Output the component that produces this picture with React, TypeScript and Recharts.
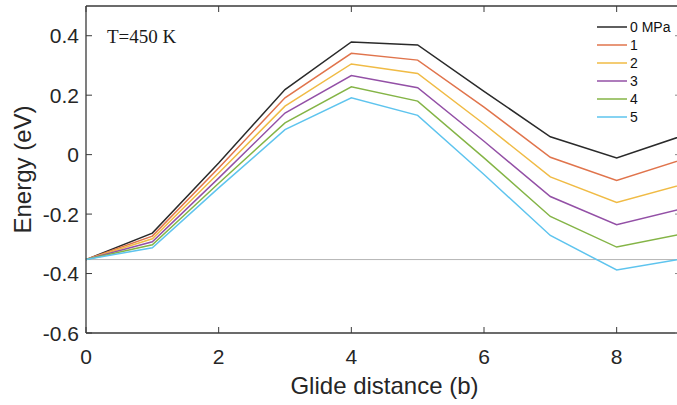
import React from 'react';
import { LineChart, Line, XAxis, YAxis, ReferenceLine } from 'recharts';

const distance = [0, 1, 2, 3, 4, 5, 6, 7, 8, 9];
const e0 = [-0.353, -0.264, -0.028, 0.219, 0.379, 0.369, 0.213, 0.06, -0.011, 0.064];
const e1 = [-0.353, -0.274, -0.045, 0.191, 0.341, 0.318, 0.16, -0.009, -0.087, -0.016];
const e2 = [-0.353, -0.283, -0.062, 0.163, 0.305, 0.273, 0.103, -0.075, -0.161, -0.1];
const e3 = [-0.353, -0.293, -0.079, 0.14, 0.266, 0.225, 0.045, -0.141, -0.236, -0.181];
const e4 = [-0.353, -0.303, -0.096, 0.107, 0.228, 0.18, -0.011, -0.208, -0.311, -0.266];
const e5 = [-0.353, -0.313, -0.112, 0.084, 0.191, 0.132, -0.067, -0.272, -0.388, -0.35];

const seriesNames = ['0 MPa', '1', '2', '3', '4', '5'];
const seriesKeys = ['e0', 'e1', 'e2', 'e3', 'e4', 'e5'];
const seriesColors = ['#2a2a2a', '#e0744c', '#f0bb45', '#9350a6', '#84b446', '#5ec4ee'];
const seriesValues = [e0, e1, e2, e3, e4, e5];

const xDomain = [0, 9];
const yDomain = [-0.6, 0.5];
const xTicks = [0, 2, 4, 6, 8];
const yTicks = [-0.6, -0.4, -0.2, 0, 0.2, 0.4];
const baseline = -0.353;
const tempLabel = 'T=450 K';
const xLabel = 'Glide distance (b)';
const yLabel = 'Energy (eV)';

const data = distance.map((d, i) => {
  const row: any = { x: d };
  seriesKeys.forEach((k, j) => {
    row[k] = seriesValues[j][i];
  });
  return row;
});

const AXIS = '#3a3a3a';
const FONT = '"Liberation Sans", Arial, sans-serif';
const TICK = 6;

const CHART_W = 700;
const CHART_H = 405;
const MARGIN = { top: 6, right: 17, bottom: 71, left: 85 };
const PLOT_L = MARGIN.left + 1;
const PLOT_R = CHART_W - MARGIN.right;
const PLOT_T = MARGIN.top;
const PLOT_B = CHART_H - MARGIN.bottom - 1;
const sx = (v: number) => PLOT_L + ((v - xDomain[0]) / (xDomain[1] - xDomain[0])) * (PLOT_R - PLOT_L);
const sy = (v: number) => PLOT_B - ((v - yDomain[0]) / (yDomain[1] - yDomain[0])) * (PLOT_B - PLOT_T);

const BottomTick = (p: any) => (
  <g>
    <line x1={p.x} x2={p.x} y1={p.y} y2={p.y - TICK} stroke={AXIS} strokeWidth={1} />
    <text x={p.x} y={p.y + 31} textAnchor="middle" fontSize={21} fontFamily={FONT} fill="#262626">
      {String(p.payload.value)}
    </text>
  </g>
);
const LeftTick = (p: any) => (
  <g>
    <line x1={p.x} x2={p.x + TICK} y1={p.y} y2={p.y} stroke={AXIS} strokeWidth={1} />
    <text x={p.x - 7} y={p.y + 7.5} textAnchor="end" fontSize={21} fontFamily={FONT} fill="#262626">
      {String(p.payload.value)}
    </text>
  </g>
);

export default function App() {
  return (
    <div style={{ position: 'absolute', left: 0, top: 0, width: 677, height: 405, overflow: 'hidden', background: '#fff' }}>
      <LineChart width={CHART_W} height={CHART_H} data={data} margin={MARGIN}>
        <XAxis
          dataKey="x"
          type="number"
          domain={xDomain}
          ticks={xTicks}
          height={1}
          tickSize={0}
          tickMargin={0}
          tickLine={false}
          tick={BottomTick}
          axisLine={{ stroke: AXIS, strokeWidth: 1.3 }}
          interval={0}
          label={{
            content: (props: any) => {
              const vb = props.viewBox;
              return (
                <text x={vb.x + vb.width / 2} y={vb.y + 61} textAnchor="middle" fontSize={24} fontFamily={FONT} fill="#262626">
                  {xLabel}
                </text>
              );
            },
          }}
        />
        <YAxis
          type="number"
          domain={yDomain}
          ticks={yTicks}
          width={1}
          tickSize={0}
          tickMargin={0}
          tickLine={false}
          tick={LeftTick}
          axisLine={{ stroke: AXIS, strokeWidth: 1.3 }}
          interval={0}
          label={{
            content: (props: any) => {
              const vb = props.viewBox;
              const cx = 31;
              const cy = vb.y + vb.height / 2;
              return (
                <text x={cx} y={cy} transform={`rotate(-90 ${cx} ${cy})`} textAnchor="middle" fontSize={24} fontFamily={FONT} fill="#262626">
                  {yLabel}
                </text>
              );
            },
          }}
        />
        <ReferenceLine y={baseline} stroke="#b5b5b5" strokeWidth={1} />
        {seriesKeys.map((k, i) => (
          <Line
            key={k}
            dataKey={k}
            name={seriesNames[i]}
            type="linear"
            stroke={seriesColors[i]}
            strokeWidth={1.5}
            dot={false}
            isAnimationActive={false}
          />
        ))}
      </LineChart>
      <svg
        width={677}
        height={405}
        style={{ position: 'absolute', left: 0, top: 0, pointerEvents: 'none' }}
      >
        <line x1={PLOT_L} x2={PLOT_R} y1={PLOT_T} y2={PLOT_T} stroke={AXIS} strokeWidth={1.3} />
        {xTicks.map((t) => (
          <line key={'tt' + t} x1={sx(t)} x2={sx(t)} y1={PLOT_T} y2={PLOT_T + TICK} stroke={AXIS} strokeWidth={1} />
        ))}
        {yTicks.map((t) => (
          <line key={'rt' + t} x1={PLOT_R - 8} x2={PLOT_R} y1={sy(t)} y2={sy(t)} stroke="#8a8a8a" strokeWidth={1} />
        ))}
      </svg>
      <div style={{ position: 'absolute', left: 597, top: 18, fontFamily: FONT, fontSize: 14, color: '#111' }}>
        {seriesNames.map((n, i) => (
          <div key={n} style={{ display: 'flex', alignItems: 'center', height: 18 }}>
            <svg width={30} height={4} style={{ marginRight: 3 }}>
              <line x1={0} x2={30} y1={2} y2={2} stroke={seriesColors[i]} strokeWidth={1.5} />
            </svg>
            <span>{n}</span>
          </div>
        ))}
      </div>
      <div
        style={{
          position: 'absolute',
          left: 107,
          top: 27,
          fontFamily: '"Liberation Serif", "Times New Roman", serif',
          fontSize: 19,
          lineHeight: '19px',
          color: '#1a1a1a',
          whiteSpace: 'nowrap',
        }}
      >
        {tempLabel}
      </div>
    </div>
  );
}
